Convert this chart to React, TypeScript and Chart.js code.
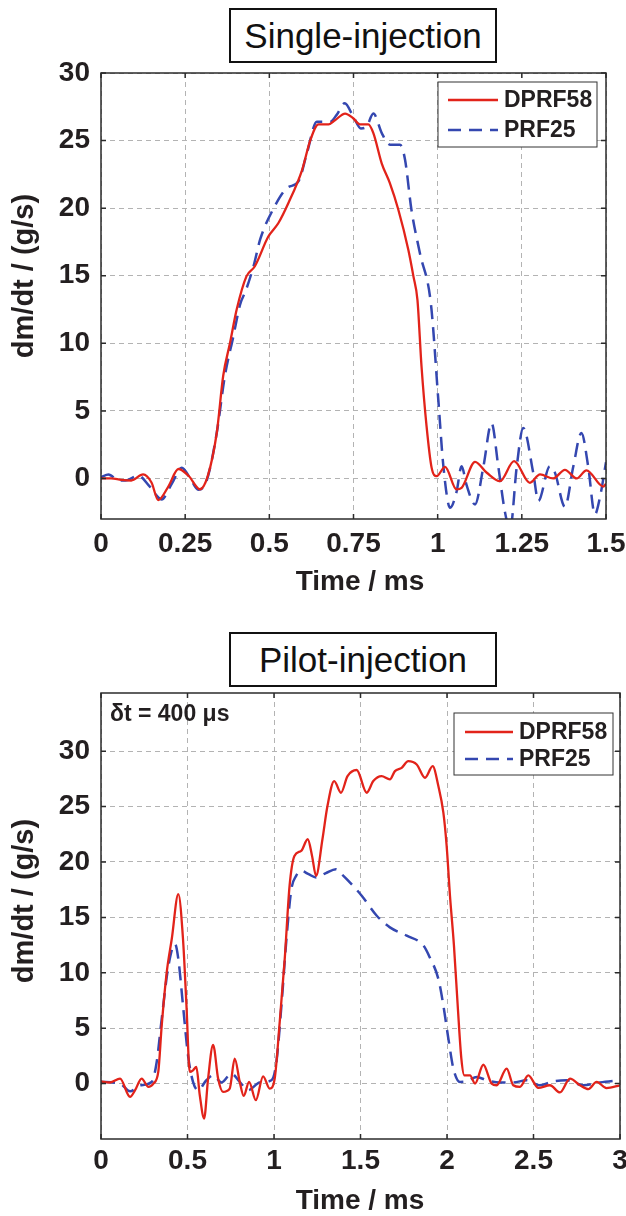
import React, { useEffect, useRef } from "react";
import { Chart, registerables } from "chart.js";

Chart.register(...registerables);

const FONT = "'Liberation Sans', Arial, Helvetica, sans-serif";
const INK = "#231f20";
const RED = "#e2231a";
const BLUE = "#3447b0";

const seriesNames = ["DPRF58", "PRF25"];
const xTitle = "Time / ms";
const yTitle = "dm/dt / (g/s)";
const panelTitles = ["Single-injection", "Pilot-injection"];
const pilotNote = "δt = 400 μs";

// ---------- Single-injection ----------
const singleXTicks = [0, 0.25, 0.5, 0.75, 1, 1.25, 1.5];
const singleXLabels = ["0", "0.25", "0.5", "0.75", "1", "1.25", "1.5"];
const singleYTicks = [0, 5, 10, 15, 20, 25, 30];

const singleDprfTime = [
  0, 0.03, 0.06, 0.09, 0.125, 0.15, 0.17, 0.2, 0.23, 0.26, 0.294, 0.317, 0.344, 0.363, 0.383,
  0.403, 0.432, 0.457, 0.497, 0.527, 0.557, 0.597, 0.622, 0.646, 0.676, 0.695, 0.725, 0.749,
  0.769, 0.794, 0.809, 0.834, 0.858, 0.883, 0.913, 0.928, 0.94, 0.952, 0.967, 0.982, 0.997,
  1.022, 1.056, 1.071, 1.111, 1.146, 1.185, 1.227, 1.274, 1.304, 1.343, 1.378, 1.413, 1.442,
  1.492, 1.5,
];
const singleDprfRate = [
  0, 0, -0.1, -0.15, 0.3, -0.3, -1.6, -0.6, 0.7, 0.2, -0.8, 0.17, 3.4, 7.6, 10.0,
  12.5, 14.95, 15.7, 17.9, 18.9, 20.4, 22.8, 25.05, 26.2, 26.2, 26.5, 27.0, 26.65,
  26.2, 26.2, 25.55, 23.3, 21.85, 19.9, 16.9, 14.95, 13.2, 8.3, 3.87, 0.8, 0.17,
  0.86, -0.81, -0.7, 1.23, 0.42, -0.2, 1.28, -0.32, 0.3, 0, 0.64, 0, 0.6,
  -0.6, -0.4,
];

const singlePrfTime = [
  0, 0.022, 0.053, 0.072, 0.111, 0.145, 0.18, 0.21, 0.24, 0.265, 0.289, 0.314, 0.344, 0.368,
  0.393, 0.413, 0.43, 0.453, 0.473, 0.513, 0.553, 0.587, 0.612, 0.641, 0.681, 0.7, 0.724,
  0.749, 0.772, 0.788, 0.809, 0.834, 0.858, 0.888, 0.903, 0.922, 0.947, 0.98, 1.002, 1.017,
  1.037, 1.056, 1.071, 1.086, 1.111, 1.136, 1.16, 1.18, 1.2, 1.215, 1.235, 1.254, 1.284,
  1.299, 1.333, 1.348, 1.378, 1.403, 1.427, 1.447, 1.467, 1.482, 1.5,
];
const singlePrfRate = [
  0.1, 0.3, -0.15, -0.15, 0.2, -0.6, -1.55, -0.4, 0.8, 0.0, -0.84, -0.15, 3.4, 7.6,
  10.5, 12.86, 13.9, 15.7, 17.7, 20.0, 21.5, 22.0, 24.1, 26.4, 26.4, 26.9, 27.77,
  26.8, 25.9, 26.0, 27.0, 25.55, 24.7, 24.7, 23.6, 19.9, 16.7, 12.9, 5.8, 0.9,
  -2.17, -1.0, 0.9, -0.5, -1.92, 0.9, 4.1, 0.9, -2.5, -3.8, 0.9, 3.74, 0.4,
  -1.67, 0.9, 0.45, -2.1, 0.9, 3.37, 0.9, -2.66, -1.4, 1.2,
];

// ---------- Pilot-injection ----------
const pilotXTicks = [0, 0.5, 1, 1.5, 2, 2.5, 3];
const pilotXLabels = ["0", "0.5", "1", "1.5", "2", "2.5", "3"];
const pilotYTicks = [0, 5, 10, 15, 20, 25, 30];

const pilotDprfTime = [
  0, 0.052, 0.11, 0.168, 0.197, 0.235, 0.274, 0.303, 0.331, 0.351, 0.38, 0.409, 0.447, 0.474,
  0.494, 0.513, 0.532, 0.551, 0.571, 0.596, 0.619, 0.648, 0.677, 0.705, 0.744, 0.773, 0.802,
  0.825, 0.856, 0.895, 0.937, 0.975, 1.004, 1.033, 1.062, 1.09, 1.118, 1.157, 1.195, 1.22,
  1.243, 1.28, 1.309, 1.348, 1.387, 1.425, 1.478, 1.536, 1.574, 1.622, 1.67, 1.699, 1.738,
  1.776, 1.825, 1.873, 1.917, 1.95, 1.979, 1.998, 2.017, 2.04, 2.062, 2.083, 2.1, 2.133,
  2.162, 2.21, 2.258, 2.287, 2.345, 2.383, 2.422, 2.47, 2.528, 2.595, 2.653, 2.711, 2.769,
  2.817, 2.865, 2.922, 3.0,
];
const pilotDprfRate = [
  0.2, 0.1, 0.45, -1.2, -0.6, 0.45, -0.3, 0, 1.05, 5.25, 10.05, 13.05, 17.1, 13.05,
  7.05, 1.05, 1.2, 1.5, -1.05, -3.15, 0.45, 3.5, 0.45, -0.75, -0.45, 2.25, 0.15,
  -1.1, 0.15, -1.5, 0.66, -0.45, 0.45, 5.55, 11.25, 17.85, 20.55, 21.0, 22.05, 20.55,
  18.75, 22.05, 25.05, 27.3, 26.25, 27.75, 28.3, 26.25, 27.3, 27.75, 27.45, 28.2, 28.5,
  29.1, 28.8, 27.6, 28.65, 26.85, 24.45, 21.45, 17.0, 12.5, 7.0, 2.25, 0.75, 0.75,
  0, 1.7, 0, -0.15, 1.35, -0.15, -0.3, 0.75, -0.39, -0.15, -0.8, 0.45, -0.15,
  -0.5, 0.15, -0.4, -0.15,
];

const pilotPrfTime = [
  0, 0.11, 0.168, 0.226, 0.293, 0.322, 0.351, 0.39, 0.428, 0.447, 0.474, 0.503, 0.532, 0.561,
  0.609, 0.648, 0.696, 0.754, 0.802, 0.85, 0.918, 0.985, 1.014, 1.043, 1.072, 1.1, 1.128,
  1.157, 1.2, 1.243, 1.3, 1.358, 1.401, 1.43, 1.507, 1.594, 1.67, 1.767, 1.864, 1.9, 1.95,
  1.979, 2.008, 2.037, 2.075, 2.114, 2.172, 2.229, 2.306, 2.383, 2.46, 2.537, 2.614, 2.691,
  2.788, 2.884, 3.0,
];
const pilotPrfRate = [
  0.15, 0, -0.7, -0.15, 0.15, 1.95, 5.85, 10.65, 12.6, 11.25, 7.05, 2.55, 0.15, -0.6,
  0.3, 0.75, 0.1, 0.9, 0.15, -0.6, 0.1, 0.3, 1.95, 7.05, 13.05, 17.5, 18.75,
  19.2, 18.9, 18.6, 19.0, 19.35, 18.75, 18.3, 16.95, 15.15, 14.1, 13.35, 12.45, 11.4, 9.45,
  7.05, 4.05, 1.35, 0.15, 0.2, 0.6, 0.3, 0.1, 0.1, 0.3, -0.15, 0.2, 0.3,
  -0.15, 0.1, 0.3,
];

type Layout = {
  xTicks: number[];
  xLabels: string[];
  yTicks: number[];
  xMax: number;
  yMin: number;
  yMax: number;
  pad: { top: number; right: number; bottom: number };
  xLabelPad: number;
  xTitleY: number;
  yTitleY: number;
  legend: { x: number; y: number; w: number; h: number; row1: number; row2: number; lineX0: number; lineX1: number; textX: number };
  note?: { x: number; y: number };
};

function pts(t: number[], v: number[]) {
  return t.map((x, i) => ({ x, y: v[i] }));
}

function makeDecor(L: Layout) {
  return {
    id: "decor",
    afterDraw(chart: any) {
      const { ctx, chartArea: a } = chart;
      const xs = chart.scales.x;
      const ys = chart.scales.y;
      ctx.save();
      ctx.strokeStyle = "#2b2b2b";
      ctx.lineWidth = 1.5;
      ctx.strokeRect(a.left, a.top, a.right - a.left, a.bottom - a.top);
      ctx.beginPath();
      L.xTicks.forEach((v) => {
        const px = xs.getPixelForValue(v);
        ctx.moveTo(px, a.top);
        ctx.lineTo(px, a.top + 5);
        ctx.moveTo(px, a.bottom);
        ctx.lineTo(px, a.bottom - 5);
      });
      L.yTicks.forEach((v) => {
        const py = ys.getPixelForValue(v);
        ctx.moveTo(a.left, py);
        ctx.lineTo(a.left + 5, py);
        ctx.moveTo(a.right, py);
        ctx.lineTo(a.right - 5, py);
      });
      ctx.stroke();

      ctx.fillStyle = INK;
      ctx.textAlign = "center";
      ctx.textBaseline = "middle";
      ctx.font = `bold 28px ${FONT}`;
      ctx.fillText(xTitle, 360, L.xTitleY);
      ctx.save();
      ctx.translate(25, L.yTitleY);
      ctx.rotate(-Math.PI / 2);
      ctx.font = `bold 29px ${FONT}`;
      ctx.fillText(yTitle, 0, 0);
      ctx.restore();

      const g = L.legend;
      ctx.fillStyle = "#fff";
      ctx.fillRect(g.x, g.y, g.w, g.h);
      ctx.strokeStyle = "#333";
      ctx.lineWidth = 1;
      ctx.strokeRect(g.x, g.y, g.w, g.h);
      ctx.lineWidth = 2.5;
      ctx.strokeStyle = RED;
      ctx.setLineDash([]);
      ctx.beginPath();
      ctx.moveTo(g.lineX0, g.row1);
      ctx.lineTo(g.lineX1, g.row1);
      ctx.stroke();
      ctx.strokeStyle = BLUE;
      ctx.setLineDash([13, 8]);
      ctx.beginPath();
      ctx.moveTo(g.lineX0, g.row2);
      ctx.lineTo(g.lineX1, g.row2);
      ctx.stroke();
      ctx.setLineDash([]);
      ctx.fillStyle = INK;
      ctx.textAlign = "left";
      ctx.font = `bold 23px ${FONT}`;
      ctx.fillText(seriesNames[0], g.textX, g.row1 + 1);
      ctx.fillText(seriesNames[1], g.textX, g.row2 + 1);

      if (L.note) {
        ctx.font = `bold 23px ${FONT}`;
        ctx.fillText(pilotNote, L.note.x, L.note.y);
      }
      ctx.restore();
    },
  };
}

function makeConfig(L: Layout, red: any[], blue: any[]): any {
  const tickFont = { family: FONT, size: 28, weight: "bold" as const };
  return {
    type: "line",
    data: {
      datasets: [
        {
          label: seriesNames[0],
          data: red,
          borderColor: RED,
          borderWidth: 2.3,
          pointRadius: 0,
          cubicInterpolationMode: "monotone",
          fill: false,
        },
        {
          label: seriesNames[1],
          data: blue,
          borderColor: BLUE,
          borderWidth: 2.5,
          borderDash: [14, 8],
          pointRadius: 0,
          cubicInterpolationMode: "monotone",
          fill: false,
        },
      ],
    },
    options: {
      animation: false,
      responsive: false,
      events: [],
      layout: { padding: { left: 0, top: L.pad.top, right: L.pad.right, bottom: L.pad.bottom } },
      plugins: { legend: { display: false }, tooltip: { enabled: false }, title: { display: false } },
      scales: {
        x: {
          type: "linear",
          min: 0,
          max: L.xMax,
          afterBuildTicks: (s: any) => {
            s.ticks = L.xTicks.map((value) => ({ value }));
          },
          afterFit: (s: any) => {
            s.height = 60;
            s.paddingLeft = 0;
            s.paddingRight = 0;
          },
          ticks: {
            autoSkip: false,
            maxRotation: 0,
            padding: L.xLabelPad,
            color: INK,
            font: tickFont,
            callback: (_v: any, i: number) => L.xLabels[i],
          },
          grid: { color: "#b3b3b3", lineWidth: 1, drawTicks: false },
          border: { display: false, dash: [5, 4] },
        },
        y: {
          type: "linear",
          min: L.yMin,
          max: L.yMax,
          afterBuildTicks: (s: any) => {
            s.ticks = L.yTicks.map((value) => ({ value }));
          },
          afterFit: (s: any) => {
            s.width = 101;
            s.paddingTop = 0;
            s.paddingBottom = 0;
          },
          ticks: {
            padding: 11,
            color: INK,
            font: tickFont,
            callback: (v: any) => String(v),
          },
          grid: { color: "#b3b3b3", lineWidth: 1, drawTicks: false },
          border: { display: false, dash: [5, 4] },
        },
      },
    },
    plugins: [makeDecor(L)],
  };
}

const singleLayout: Layout = {
  xTicks: singleXTicks,
  xLabels: singleXLabels,
  yTicks: singleYTicks,
  xMax: 1.5,
  yMin: -3,
  yMax: 30,
  pad: { top: 73, right: 20, bottom: 610 - 519 - 60 },
  xLabelPad: 8,
  xTitleY: 582,
  yTitleY: 276,
  legend: { x: 438, y: 82, w: 159, h: 65, row1: 100, row2: 130, lineX0: 448, lineX1: 498, textX: 504 },
};

const pilotLayout: Layout = {
  xTicks: pilotXTicks,
  xLabels: pilotXLabels,
  yTicks: pilotYTicks,
  xMax: 3,
  yMin: -5,
  yMax: 35.25,
  pad: { top: 83, right: 6, bottom: 606 - 529 - 60 },
  xLabelPad: 5,
  xTitleY: 591,
  yTitleY: 291,
  legend: { x: 454, y: 103, w: 159, h: 62, row1: 122, row2: 149, lineX0: 465, lineX1: 513, textX: 519 },
  note: { x: 110, y: 105 },
};

function titleBox(top: number): React.CSSProperties {
  return {
    position: "absolute",
    left: 229,
    top,
    width: 268,
    height: 55,
    boxSizing: "border-box",
    border: "2px solid #111",
    background: "#fff",
    display: "flex",
    alignItems: "center",
    justifyContent: "center",
    fontFamily: FONT,
    fontSize: 35,
    color: "#111",
    lineHeight: 1,
    whiteSpace: "nowrap",
  };
}

export default function App() {
  const topRef = useRef<HTMLCanvasElement>(null);
  const botRef = useRef<HTMLCanvasElement>(null);

  useEffect(() => {
    const c1 = new Chart(
      topRef.current as HTMLCanvasElement,
      makeConfig(singleLayout, pts(singleDprfTime, singleDprfRate), pts(singlePrfTime, singlePrfRate))
    );
    const c2 = new Chart(
      botRef.current as HTMLCanvasElement,
      makeConfig(pilotLayout, pts(pilotDprfTime, pilotDprfRate), pts(pilotPrfTime, pilotPrfRate))
    );
    return () => {
      c1.destroy();
      c2.destroy();
    };
  }, []);

  return (
    <div style={{ position: "absolute", left: 0, top: 0, width: 626, height: 1216, background: "#fff", overflow: "hidden" }}>
      <canvas ref={topRef} width={626} height={610} style={{ position: "absolute", left: 0, top: 0, width: 626, height: 610 }} />
      <canvas ref={botRef} width={626} height={606} style={{ position: "absolute", left: 0, top: 610, width: 626, height: 606 }} />
      <div style={titleBox(8)}>{panelTitles[0]}</div>
      <div style={titleBox(632)}>{panelTitles[1]}</div>
    </div>
  );
}
